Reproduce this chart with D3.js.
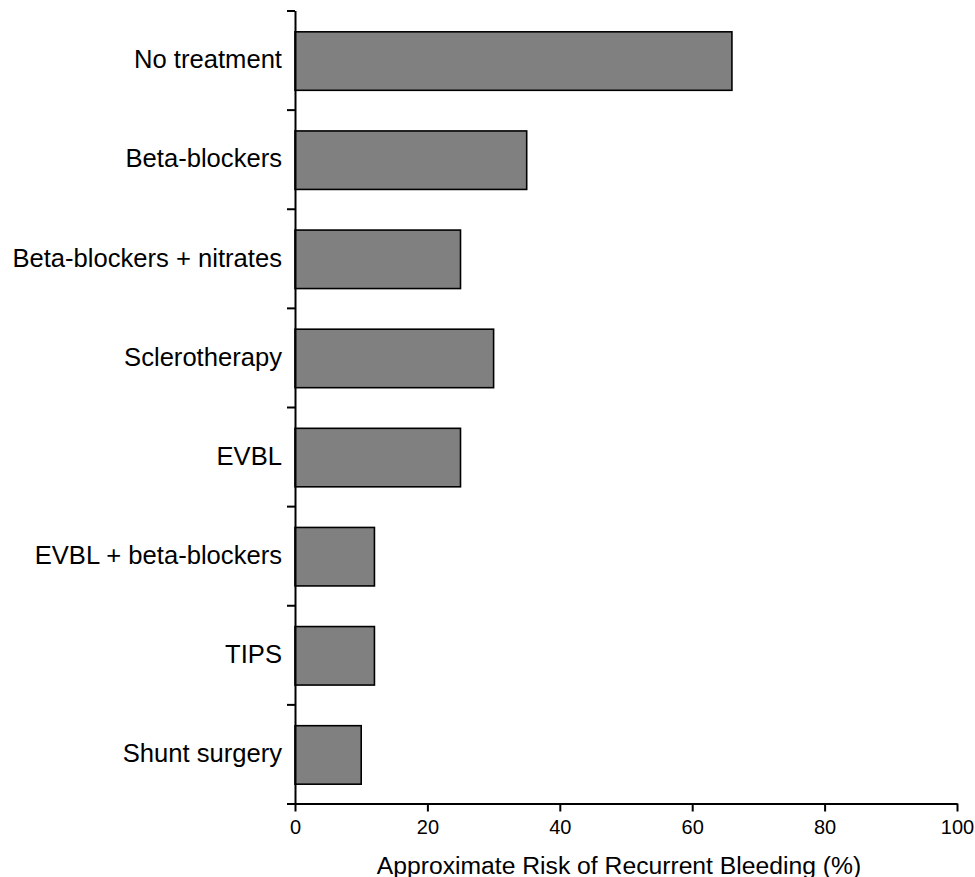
<!DOCTYPE html>
<html>
<head>
<meta charset="utf-8">
<script src="https://cdn.jsdelivr.net/npm/d3@7"></script>
<style>
    body { margin: 0; background: #fff; }
    svg { display: block; }
</style>
</head>
<body>
<div id="chart"></div>
<script>
// Treatment categories, top to bottom
var categories = [
    'No treatment',
    'Beta-blockers',
    'Beta-blockers + nitrates',
    'Sclerotherapy',
    'EVBL',
    'EVBL + beta-blockers',
    'TIPS',
    'Shunt surgery'
];
// Approximate risk of recurrent bleeding (%)
var riskValues = [66, 35, 25, 30, 25, 12, 12, 10];
// Tick labels of the x-axis
var xTicks = [0, 20, 40, 60, 80, 100];

var xTitle = 'Approximate Risk of Recurrent Bleeding (%)';

/* Draws the horizontal bar chart
*/
function drawChart(selector) {

    // Set the size of the page and the chart area
    var fullWidth = 975,
        fullHeight = 877,
        margin = { top: 10.5, right: 18, bottom: 73.5, left: 295 },
        width = fullWidth - margin.left - margin.right,
        height = fullHeight - margin.top - margin.bottom;

    var fontFamily = '"Liberation Sans", Arial, Helvetica, sans-serif';

    var data = categories.map(function(c, i) {
        return { name: c, value: riskValues[i] };
    });

    var svg = d3.select(selector)
        .append('svg')
        .attr('width', fullWidth)
        .attr('height', fullHeight);

    var g = svg.append('g')
        .attr('transform', 'translate(' + margin.left + ',' + margin.top + ')');

    // Set the scales of the chart
    var xScale = d3.scaleLinear()
        .domain([0, 100])
        .range([0, width]);

    // Each bar sits in the middle of its slot
    var yScale = d3.scaleBand()
        .domain(categories)
        .range([0, height])
        .paddingInner(0.41)
        .paddingOuter(0.205);

    // Slot boundaries for the y-axis ticks
    var slotScale = d3.scaleLinear()
        .domain([0, categories.length])
        .range([0, height]);

    // Draw the bars
    g.append('g')
        .selectAll('rect')
        .data(data)
        .enter()
        .append('rect')
        .attr('x', xScale(0))
        .attr('y', function(d) { return yScale(d.name) + 1; })
        .attr('width', function(d) { return xScale(d.value) - xScale(0); })
        .attr('height', yScale.bandwidth())
        .attr('fill', '#808080')
        .attr('stroke', '#000')
        .attr('stroke-width', 1.6);

    // Draw the y-axis with ticks between the categories
    var yAxis = g.append('g')
        .call(d3.axisLeft(slotScale)
            .tickValues(d3.range(categories.length + 1))
            .tickSize(8)
            .tickSizeOuter(0)
            .tickFormat(''));
    yAxis.select('.domain').attr('stroke-width', 2);
    yAxis.selectAll('.tick line').attr('stroke-width', 2);

    // Draw the category labels
    var yLabels = g.append('g')
        .call(d3.axisLeft(yScale).tickSize(0).tickPadding(13));
    yLabels.select('.domain').remove();
    yLabels.selectAll('text')
        .attr('font-family', fontFamily)
        .attr('font-size', '25.6px')
        .attr('fill', '#000');

    // Draw the x-axis
    var xAxis = g.append('g')
        .attr('transform', 'translate(0,' + height + ')')
        .call(d3.axisBottom(xScale)
            .tickValues(xTicks)
            .tickSize(8)
            .tickSizeOuter(0)
            .tickPadding(8));
    xAxis.select('.domain').attr('stroke-width', 2);
    xAxis.selectAll('.tick line').attr('stroke-width', 2);
    xAxis.selectAll('text')
        .attr('font-family', fontFamily)
        .attr('font-size', '20px')
        .attr('fill', '#000');

    // Draw the x-axis title
    g.append('text')
        .attr('x', width / 2 - 7)
        .attr('y', height + 70)
        .attr('text-anchor', 'middle')
        .attr('font-family', fontFamily)
        .attr('font-size', '24.7px')
        .attr('fill', '#000')
        .text(xTitle);
}

drawChart('#chart');
</script>
</body>
</html>
